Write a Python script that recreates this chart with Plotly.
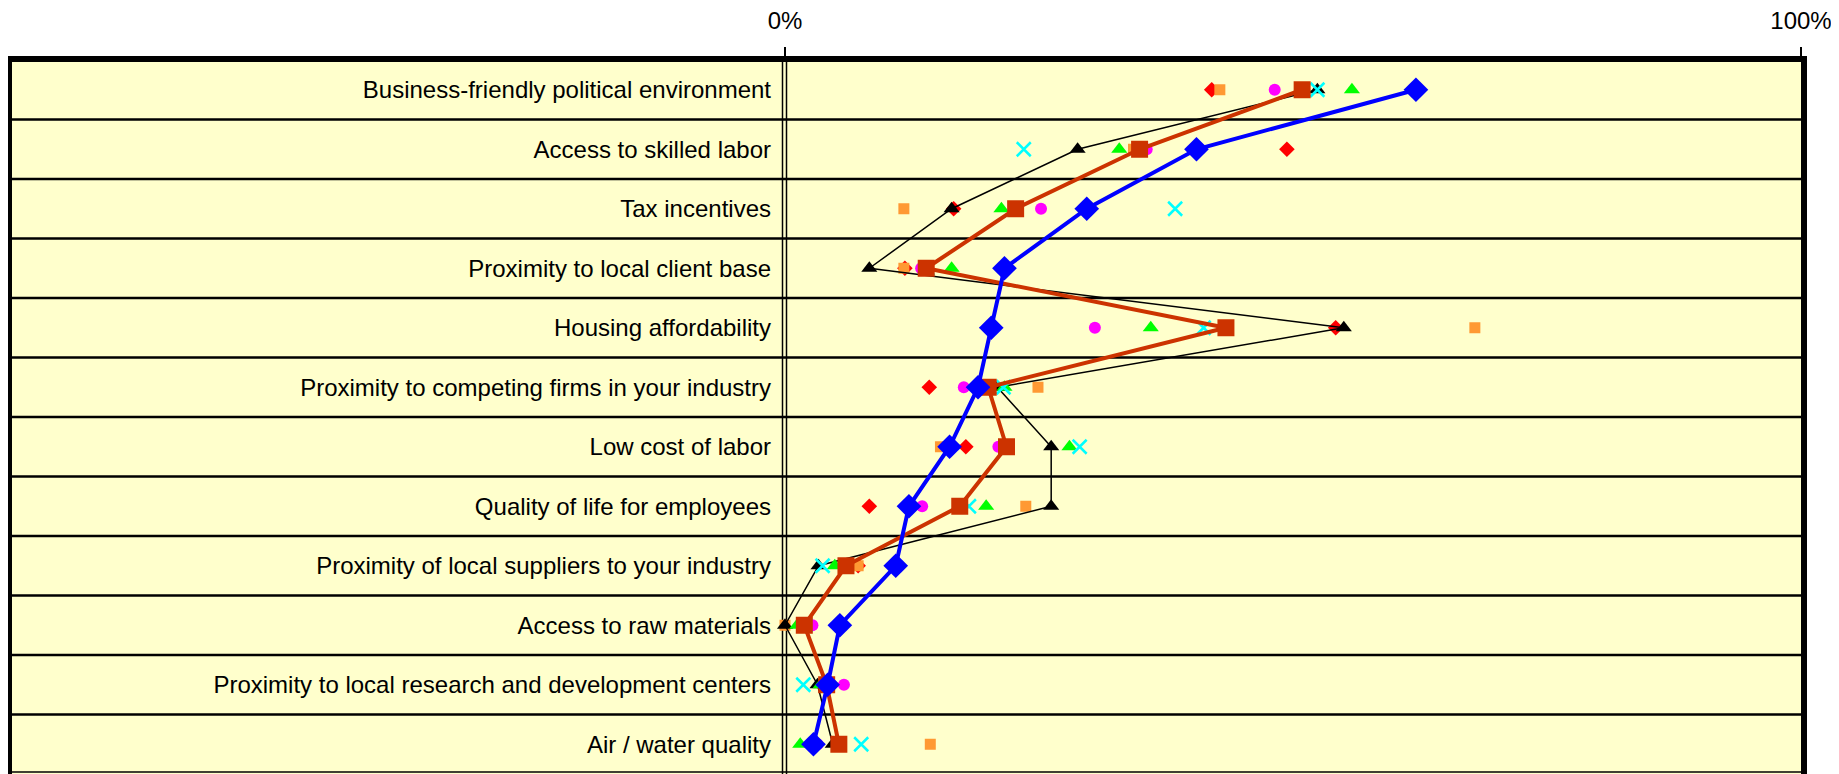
import plotly.graph_objects as go

factors = ["Business-friendly political environment", "Access to skilled labor",
           "Tax incentives", "Proximity to local client base", "Housing affordability",
           "Proximity to competing firms in your industry", "Low cost of labor",
           "Quality of life for employees", "Proximity of local suppliers to your industry",
           "Access to raw materials", "Proximity to local research and development centers",
           "Air / water quality"]

blue = [0.621, 0.405, 0.297, 0.216, 0.203, 0.190, 0.162, 0.122, 0.109, 0.054, 0.042, 0.028]
brown = [0.509, 0.349, 0.227, 0.139, 0.434, 0.200, 0.218, 0.172, 0.060, 0.019, 0.041, 0.053]
black = [0.524, 0.288, 0.164, 0.083, 0.550, 0.209, 0.262, 0.262, 0.033, 0.0, 0.032, 0.047]
red = [0.420, 0.494, 0.166, 0.118, 0.542, 0.142, 0.178, 0.083, 0.072, 0.019, 0.046, 0.050]
orange = [0.428, 0.343, 0.117, 0.117, 0.679, 0.249, 0.153, 0.237, 0.072, 0.0, 0.040, 0.143]
magenta = [0.482, 0.356, 0.252, 0.134, 0.305, 0.176, 0.210, 0.135, 0.062, 0.027, 0.058, 0.032]
green = [0.558, 0.329, 0.213, 0.164, 0.360, 0.216, 0.280, 0.198, 0.049, 0.012, 0.035, 0.015]
cyan = [0.524, 0.235, 0.384, 0.140, 0.412, 0.215, 0.290, 0.181, 0.037, 0.020, 0.018, 0.075]

# the page body has an 8px margin, so the figure is drawn 8px in from the corner
OFF = 8
W, H = 1839 - OFF, 774 - OFF
L, T = 785 - OFF, 60 - OFF
pw, ph = 1016, 714
R, B = W - L - pw, H - T - ph

def px(p):  # window pixel -> paper x
    return (p - OFF - L) / pw

def py(p):  # window pixel -> paper y
    return 1 - (p - OFF - T) / ph

fig = go.Figure()

def pts(vals, color, symbol, size, **kw):
    fig.add_trace(go.Scatter(x=vals, y=factors, mode="markers", cliponaxis=False,
                             marker=dict(color=color, symbol=symbol, size=size, **kw)))

pts(red, "#FF0000", "diamond", 12)
pts(orange, "#FF9933", "square", 11)
pts(magenta, "#FF00FF", "circle", 12)
fig.add_trace(go.Scatter(x=black, y=factors, mode="lines+markers", cliponaxis=False,
                         line=dict(color="black", width=1.5),
                         marker=dict(color="black", symbol="triangle-up", size=14)))
pts(green, "#00FF00", "triangle-up", 14)
pts(cyan, "#00FFFF", "x-thin-open", 14, line=dict(color="#00FFFF", width=2.5))
fig.add_trace(go.Scatter(x=brown, y=factors, mode="lines+markers", cliponaxis=False,
                         line=dict(color="#CC3300", width=4),
                         marker=dict(color="#CC3300", symbol="square", size=17)))
fig.add_trace(go.Scatter(x=blue, y=factors, mode="lines+markers", cliponaxis=False,
                         line=dict(color="#0000FF", width=4),
                         marker=dict(color="#0000FF", symbol="diamond", size=19)))

shapes = [dict(type="rect", xref="paper", yref="paper", x0=px(9), x1=0, y0=0, y1=1,
               fillcolor="#FFFFCC", line=dict(width=0), layer="below")]
for i in range(1, len(factors)):
    shapes.append(dict(type="line", xref="paper", yref="y", x0=px(9), x1=px(1804),
                       y0=i - 0.5, y1=i - 0.5, line=dict(color="black", width=2.5), layer="below"))
for xp in (782.5, 786.5):
    shapes.append(dict(type="line", xref="paper", yref="paper", x0=px(xp), x1=px(xp),
                       y0=0, y1=py(59), line=dict(color="black", width=1.5), layer="below"))
shapes.append(dict(type="path", xref="paper", yref="paper",
                   path=f"M {px(9)},0 L {px(9)},{py(59)} L {px(1804)},{py(59)} L {px(1804)},0",
                   line=dict(color="black", width=6), layer="below"))
shapes.append(dict(type="line", xref="paper", yref="paper", x0=px(9), x1=px(1804),
                   y0=py(772), y1=py(772), line=dict(color="black", width=1.5), layer="below"))

font = "Liberation Sans, Arial, sans-serif"
fig.update_layout(
    width=W, height=H, autosize=False, showlegend=False,
    margin=dict(l=L, r=R, t=T, b=B),
    paper_bgcolor="white", plot_bgcolor="#FFFFCC",
    font=dict(family=font, color="black"),
    shapes=shapes,
    xaxis=dict(range=[0, 1], side="top", tickvals=[0, 1], ticktext=["0%", "100%"],
               ticks="outside", ticklen=12, tickwidth=1.5, tickcolor="black",
               ticklabelstandoff=8, tickfont=dict(size=24, family=font),
               showgrid=False, zeroline=False, showline=False, automargin=False),
    yaxis=dict(type="category", range=[len(factors) - 0.5, -0.5], ticks="",
               ticklabelstandoff=13, tickfont=dict(size=24, family=font),
               showgrid=False, zeroline=False, showline=False, automargin=False),
)

fig.write_html("out.html")
